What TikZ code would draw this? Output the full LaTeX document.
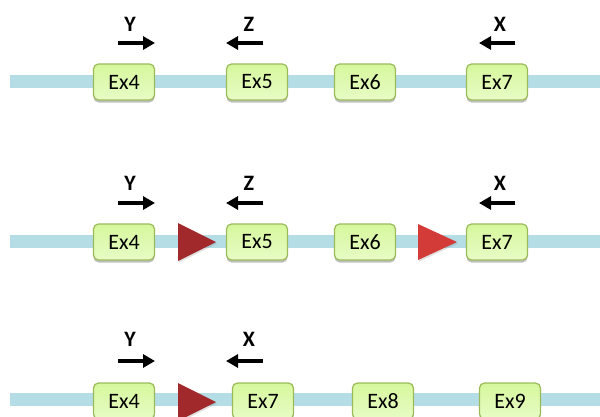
\documentclass[tikz,border=0pt]{standalone}
\usepackage{fontspec}
\setmainfont{Carlito}
\usetikzlibrary{arrows.meta,shadows}
\definecolor{trackblue}{HTML}{B5DDE6}
\definecolor{exfilltop}{HTML}{D6F79C}
\definecolor{exfillbot}{HTML}{E8FCC6}
\definecolor{exline}{HTML}{9BBB59}
\definecolor{darkred}{HTML}{A1292B}
\definecolor{brightred}{HTML}{D23B38}
\tikzset{
  trackbar/.style={line width=13pt, draw=trackblue},
  exon/.style={draw=exline, line width=1.2pt, rounded corners=5pt,
    top color=exfilltop, bottom color=exfillbot,
    minimum width=61pt, minimum height=36pt, inner sep=0pt,
    font=\fontsize{22}{26}\selectfont,
    drop shadow={shadow xshift=0pt, shadow yshift=-2.5pt, opacity=0.25, fill=black}},
  lbl/.style={font=\fontsize{22}{26}\selectfont\bfseries, inner sep=0pt},
  dirarrow/.style={line width=3.5pt, -{Triangle[length=12pt,width=13pt]}},
  spliceA/.style={fill=darkred, drop shadow={shadow xshift=1pt, shadow yshift=-1.5pt, opacity=0.25}},
  spliceB/.style={fill=brightred, drop shadow={shadow xshift=1pt, shadow yshift=-1.5pt, opacity=0.25}}
}
\begin{document}
\begin{tikzpicture}[x=1pt,y=-1pt]
\useasboundingbox (0,0) rectangle (600,416);

% ---- row 1 ----
\coordinate (t1a) at (10,81.5);
\coordinate (t1b) at (610,81.5);
\draw[trackbar] (t1a) -- (t1b);
\node[exon] (a4) at (124,82) {Ex4};
\node[exon] (a5) at (257,82) {Ex5};
\node[exon] (a6) at (365,82) {Ex6};
\node[exon] (a7) at (497,82) {Ex7};
\node[lbl] (aY) at (130,24) {Y};
\node[lbl] (aZ) at (249,24) {Z};
\node[lbl] (aX) at (500,24) {X};
\coordinate (aYs) at (118,43); \coordinate (aYe) at (155,43);
\coordinate (aZs) at (263,43); \coordinate (aZe) at (226,43);
\coordinate (aXs) at (515,43); \coordinate (aXe) at (479,43);
\draw[dirarrow] (aYs) -- (aYe);
\draw[dirarrow] (aZs) -- (aZe);
\draw[dirarrow] (aXs) -- (aXe);

% ---- row 2 ----
\coordinate (t2a) at (10,241.5);
\coordinate (t2b) at (610,241.5);
\draw[trackbar] (t2a) -- (t2b);
\fill[spliceA] (178,223) -- (216,242) -- (178,261) -- cycle;
\fill[spliceB] (418,224) -- (457,242) -- (418,260) -- cycle;
\node[exon] (b4) at (124,242) {Ex4};
\node[exon] (b5) at (257,242) {Ex5};
\node[exon] (b6) at (365,242) {Ex6};
\node[exon] (b7) at (497,242) {Ex7};
\node[lbl] (bY) at (130,183) {Y};
\node[lbl] (bZ) at (249,183) {Z};
\node[lbl] (bX) at (500,183) {X};
\coordinate (bYs) at (118,203); \coordinate (bYe) at (155,203);
\coordinate (bZs) at (263,203); \coordinate (bZe) at (226,203);
\coordinate (bXs) at (515,203); \coordinate (bXe) at (479,203);
\draw[dirarrow] (bYs) -- (bYe);
\draw[dirarrow] (bZs) -- (bZe);
\draw[dirarrow] (bXs) -- (bXe);

% ---- row 3 ----
\coordinate (t3a) at (10,399.5);
\coordinate (t3b) at (610,399.5);
\draw[trackbar] (t3a) -- (t3b);
\fill[spliceA] (178,383) -- (216,402) -- (178,421) -- cycle;
\node[exon] (c4) at (124,401) {Ex4};
\node[exon] (c7) at (263,401) {Ex7};
\node[exon] (c8) at (383,401) {Ex8};
\node[exon] (c9) at (510,401) {Ex9};
\node[lbl] (cY) at (130,339) {Y};
\node[lbl] (cX) at (249,339) {X};
\coordinate (cYs) at (118,361); \coordinate (cYe) at (155,361);
\coordinate (cXs) at (263,361); \coordinate (cXe) at (226,361);
\draw[dirarrow] (cYs) -- (cYe);
\draw[dirarrow] (cXs) -- (cXe);
\end{tikzpicture}
\end{document}
